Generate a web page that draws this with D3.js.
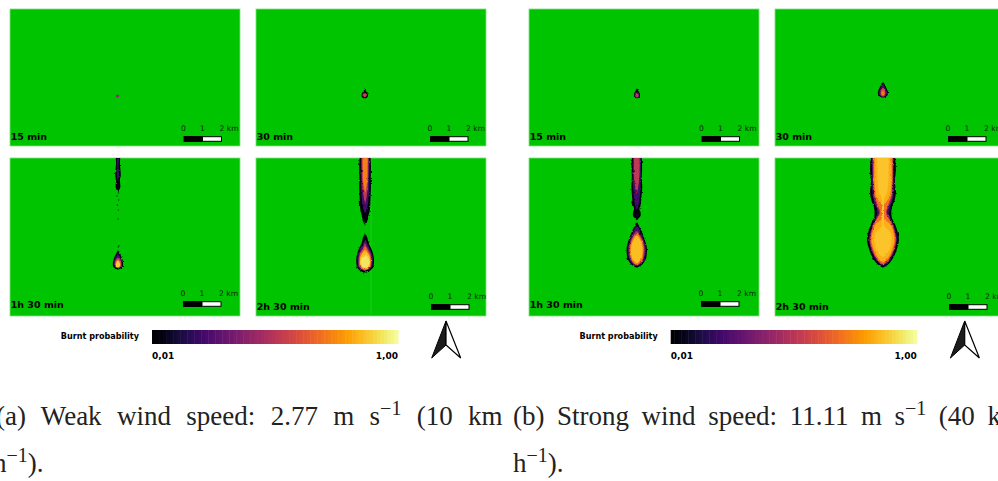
<!DOCTYPE html>
<html>
<head>
<meta charset="utf-8">
<script src="https://cdn.jsdelivr.net/npm/d3@7"></script>
<style>
  html, body { margin: 0; background: #fff; overflow: hidden; }
  svg { display: block; }
</style>
</head>
<body>
<div id="chart"></div>
<script>
const width = 998;
const height = 481;

// Panel labels and legend text
const panelTitles = ["15 min", "30 min", "1h 30 min", "2h 30 min"];
const scaleTicks = [0, 1, 2];
const legendDomain = [0.01, 1];
const legendTickLabels = ["0,01", "1,00"];

// Fire contours: [km from panel top, half width in km]
const weak15Dark = [[4.5, 0.02], [4.58, 0.09], [4.67, 0.02]];
const weak15Red = [[4.53, 0.02], [4.58, 0.06], [4.64, 0.02]];

const weak30Dark = [[4.18, 0.01], [4.32, 0.06], [4.45, 0.15], [4.58, 0.17], [4.70, 0.06]];
const weak30Red = [[4.42, 0.03], [4.53, 0.12], [4.64, 0.03]];

const weak90TailDark = [[0, 0.12], [0.3, 0.1], [0.6, 0.13], [0.9, 0.15], [1.2, 0.1], [1.5, 0.13], [1.7, 0.06], [1.8, 0.02]];
const weak90TailPurple = [[0, 0.05], [0.5, 0.04], [0.9, 0.06], [1.2, 0.02]];
const weak90Specks = [[1.84, 0.03], [2.0, -0.05], [2.21, 0.04], [2.47, -0.03], [2.74, 0.02], [3.21, 0], [4.62, 0.05], [4.68, 0.02]];
const weak90Dark = [[4.85, 0.01], [5.0, 0.08], [5.2, 0.18], [5.45, 0.26], [5.65, 0.27], [5.8, 0.16], [5.87, 0.03]];
const weak90Purple = [[5.05, 0.02], [5.25, 0.13], [5.45, 0.21], [5.65, 0.21], [5.78, 0.1]];
const weak90Red = [[5.25, 0.03], [5.42, 0.15], [5.62, 0.18], [5.76, 0.08]];
const weak90Orange = [[5.33, 0.03], [5.48, 0.13], [5.65, 0.15], [5.77, 0.05]];
const weak90Yellow = [[5.42, 0.03], [5.55, 0.1], [5.65, 0.11], [5.74, 0.03]];

const weak150TailDark = [[0, 0.29], [0.5, 0.31], [1, 0.3], [1.5, 0.31], [2, 0.29], [2.5, 0.27], [2.8, 0.24], [3.0, 0.18], [3.2, 0.15], [3.4, 0.08], [3.5, 0.02]];
const weak150TailPurple = [[0, 0.22], [1, 0.22], [1.8, 0.2], [2.3, 0.17], [2.7, 0.08], [2.9, 0.01]];
const weak150TailRed = [[0, 0.18], [1, 0.17], [1.6, 0.13], [2.1, 0.07], [2.4, 0.01]];
const weak150TailOrange = [[0, 0.13], [1, 0.12], [1.5, 0.07], [1.8, 0.01]];
const weak150Dark = [[4.02, 0.04], [4.2, 0.12], [4.45, 0.17], [4.7, 0.29], [5.0, 0.41], [5.4, 0.47], [5.7, 0.44], [5.9, 0.29], [6.02, 0.08]];
const weak150Purple = [[4.3, 0.03], [4.6, 0.14], [4.9, 0.3], [5.3, 0.4], [5.65, 0.38], [5.85, 0.24], [5.95, 0.06]];
const weak150Red = [[4.5, 0.03], [4.75, 0.13], [5.05, 0.29], [5.4, 0.35], [5.7, 0.33], [5.87, 0.13]];
const weak150Orange = [[4.65, 0.03], [4.9, 0.16], [5.2, 0.29], [5.6, 0.31], [5.8, 0.19], [5.9, 0.04]];
const weak150Amber = [[4.85, 0.03], [5.1, 0.21], [5.4, 0.28], [5.65, 0.25], [5.82, 0.08]];
const weak150Yellow = [[5.1, 0.05], [5.3, 0.2], [5.5, 0.24], [5.7, 0.17], [5.78, 0.04]];

const strong15Dark = [[4.2, 0.02], [4.3, 0.07], [4.45, 0.15], [4.6, 0.15], [4.7, 0.03]];
const strong15Purple = [[4.33, 0.02], [4.47, 0.11], [4.6, 0.11], [4.67, 0.02]];
const strong15Red = [[4.42, 0.02], [4.55, 0.08], [4.65, 0.02]];

const strong30Dark = [[3.87, 0.03], [4.0, 0.11], [4.2, 0.2], [4.4, 0.27], [4.55, 0.23], [4.65, 0.06]];
const strong30Purple = [[4.0, 0.03], [4.2, 0.14], [4.4, 0.21], [4.55, 0.17], [4.63, 0.03]];
const strong30Red = [[4.15, 0.03], [4.33, 0.12], [4.5, 0.13], [4.6, 0.02]];
const strong30Orange = [[4.28, 0.02], [4.42, 0.09], [4.55, 0.02]];

const strong90TailDark = [[0, 0.26], [0.5, 0.28], [1, 0.26], [1.5, 0.29], [2, 0.25], [2.4, 0.22], [2.7, 0.14], [2.85, 0.2], [3.0, 0.21], [3.2, 0.08], [3.28, 0.01]];
const strong90TailPurple = [[0, 0.21], [1, 0.21], [1.7, 0.18], [2.3, 0.13], [2.7, 0.02]];
const strong90TailRed = [[0, 0.15], [0.8, 0.15], [1.3, 0.11], [1.9, 0.01]];
const strong90Dark = [[3.4, 0.05], [3.6, 0.13], [3.9, 0.27], [4.3, 0.42], [4.8, 0.54], [5.2, 0.51], [5.5, 0.37], [5.7, 0.16], [5.76, 0.04]];
const strong90Purple = [[3.6, 0.05], [3.9, 0.2], [4.3, 0.36], [4.8, 0.48], [5.2, 0.44], [5.5, 0.3], [5.68, 0.09]];
const strong90Red = [[3.85, 0.05], [4.15, 0.23], [4.8, 0.42], [5.2, 0.38], [5.5, 0.24], [5.63, 0.08]];
const strong90Orange = [[4.0, 0.08], [4.3, 0.25], [4.8, 0.37], [5.2, 0.33], [5.5, 0.18], [5.6, 0.05]];
const strong90Amber = [[4.1, 0.06], [4.4, 0.22], [4.8, 0.31], [5.2, 0.27], [5.45, 0.12], [5.52, 0.03]];

const strong150Dark = [[0, 0.64], [0.6, 0.68], [1.2, 0.63], [1.8, 0.68], [2.2, 0.62], [2.6, 0.47], [2.9, 0.44], [3.1, 0.46], [3.5, 0.64], [4.0, 0.8], [4.3, 0.84], [4.7, 0.76], [5.2, 0.57], [5.5, 0.37], [5.7, 0.14], [5.76, 0.03]];
const strong150Purple = [[0, 0.58], [1, 0.57], [1.8, 0.56], [2.3, 0.48], [2.6, 0.36], [2.9, 0.3], [3.1, 0.36], [3.5, 0.55], [4, 0.71], [4.3, 0.74], [4.7, 0.66], [5.2, 0.47], [5.5, 0.26], [5.65, 0.05]];
const strong150Red = [[0, 0.54], [1, 0.53], [1.8, 0.52], [2.3, 0.41], [2.6, 0.29], [2.87, 0.21], [3.1, 0.31], [3.5, 0.51], [4, 0.66], [4.3, 0.7], [4.7, 0.62], [5.2, 0.42], [5.48, 0.22], [5.6, 0.04]];
const strong150Orange = [[0, 0.5], [1, 0.5], [1.8, 0.47], [2.3, 0.34], [2.6, 0.22], [2.85, 0.14], [3.1, 0.26], [3.5, 0.47], [4, 0.62], [4.3, 0.66], [4.7, 0.58], [5.2, 0.38], [5.45, 0.18], [5.58, 0.03]];
const strong150Amber = [[0, 0.44], [1, 0.45], [1.8, 0.4], [2.2, 0.25], [2.5, 0.05], [3.15, 0.05], [3.5, 0.4], [4, 0.56], [4.3, 0.6], [4.7, 0.52], [5.2, 0.3], [5.45, 0.1]];
const strong150Core = [[0, 0.3], [1, 0.3], [1.8, 0.22], [2.2, 0.05], [3.5, 0.05], [4, 0.42], [4.3, 0.46], [4.7, 0.4], [5.15, 0.12]];

// Layout
const kmPerPanel = 12.1;
const pxPerKm = 230 / kmPerPanel;
const colX = [10, 256, 529, 775];
const rows = [{ y: 9, h: 137 }, { y: 158, h: 158 }];
const groupOffset = [0, 518.7];

// Each panel: probability bands drawn from the outside in
const panels = [
  { col: 0, row: 0, title: 0, barX: 173.5, barUp: 10, titleUp: 6, plumes: [{ cx: 5.66, bands: [[0.3, weak15Dark], [0.5, weak15Red]] }] },
  { col: 1, row: 0, title: 1, barX: 174, barUp: 10, titleUp: 6, plumes: [{ cx: 5.72, bands: [[0.03, weak30Dark], [0.52, weak30Red]] }] },
  { col: 0, row: 1, title: 2, barX: 173, barUp: 15, titleUp: 8, specks: weak90Specks, plumes: [
    { cx: 5.68, bands: [[0.03, weak90TailDark], [0.18, weak90TailPurple]] },
    { cx: 5.68, bands: [[0.03, weak90Dark], [0.2, weak90Purple], [0.45, weak90Red], [0.68, weak90Orange], [0.88, weak90Yellow]] }] },
  { col: 1, row: 1, title: 3, barX: 175, barUp: 12, titleUp: 6, seam: 6.05, plumes: [
    { cx: 5.74, bands: [[0.03, weak150TailDark], [0.2, weak150TailPurple], [0.5, weak150TailRed], [0.72, weak150TailOrange]] },
    { cx: 5.74, bands: [[0.03, weak150Dark], [0.22, weak150Purple], [0.45, weak150Red], [0.66, weak150Orange], [0.84, weak150Amber], [0.93, weak150Yellow]] }] },
  { col: 2, row: 0, title: 0, barX: 172.5, barUp: 10, titleUp: 6, plumes: [{ cx: 5.68, bands: [[0.03, strong15Dark], [0.25, strong15Purple], [0.5, strong15Red]] }] },
  { col: 3, row: 0, title: 1, barX: 173, barUp: 10, titleUp: 6, plumes: [{ cx: 5.68, bands: [[0.03, strong30Dark], [0.2, strong30Purple], [0.55, strong30Red], [0.72, strong30Orange]] }] },
  { col: 2, row: 1, title: 2, barX: 172, barUp: 15, titleUp: 8, plumes: [
    { cx: 5.67, bands: [[0.03, strong90TailDark], [0.2, strong90TailPurple], [0.5, strong90TailRed]] },
    { cx: 5.67, bands: [[0.03, strong90Dark], [0.2, strong90Purple], [0.45, strong90Red], [0.7, strong90Orange], [0.85, strong90Amber]] }] },
  { col: 3, row: 1, title: 3, barX: 174, barUp: 12, titleUp: 6, plumes: [
    { cx: 5.68, bands: [[0.03, strong150Dark], [0.2, strong150Purple], [0.45, strong150Red], [0.68, strong150Orange], [0.82, strong150Amber], [0.86, strong150Core]] }] }
];

const svg = d3.select("#chart").append("svg")
  .attr("width", width)
  .attr("height", height);

const defs = svg.append("defs");

// Rough raster edge for the fire shapes
const rough = defs.append("filter").attr("id", "rough")
  .attr("x", "-20%").attr("y", "-20%").attr("width", "140%").attr("height", "140%");
rough.append("feTurbulence").attr("type", "fractalNoise").attr("baseFrequency", 0.4)
  .attr("numOctaves", 2).attr("seed", 4).attr("result", "n");
rough.append("feDisplacementMap").attr("in", "SourceGraphic").attr("in2", "n")
  .attr("scale", 2.6).attr("xChannelSelector", "R").attr("yChannelSelector", "G").attr("result", "d");
rough.append("feGaussianBlur").attr("in", "d").attr("stdDeviation", 0.6);

const color = d3.scaleSequential(d3.interpolateInferno).domain([0, 1]);
const labelFont = "'DejaVu Sans', sans-serif";

panels.forEach((p, i) => {
  const row = rows[p.row];
  const px = colX[p.col];
  const x = d3.scaleLinear().domain([0, kmPerPanel]).range([0, 230]);
  const y = d3.scaleLinear().domain([0, row.h / pxPerKm]).range([0, row.h]);

  defs.append("clipPath").attr("id", "clip" + i)
    .append("rect").attr("width", 230).attr("height", row.h);

  const g = svg.append("g").attr("transform", `translate(${px},${row.y})`);

  g.append("rect")
    .attr("width", 230).attr("height", row.h)
    .attr("fill", "#00c400")
    .attr("stroke", "#7fe07f").attr("stroke-width", 0.8);

  const map = g.append("g").attr("clip-path", `url(#clip${i})`);

  if (p.seam) {
    map.append("line")
      .attr("x1", x(p.seam)).attr("x2", x(p.seam))
      .attr("y1", 0).attr("y2", row.h)
      .attr("stroke", "#2fce2f").attr("stroke-width", 0.7);
  }

  const fire = map.append("g");
  p.plumes.forEach(plume => {
    const area = d3.area()
      .y(d => y(d[0]))
      .x0(d => x(plume.cx - d[1]))
      .x1(d => x(plume.cx + d[1]))
      .curve(d3.curveMonotoneY);
    fire.append("g").attr("filter", "url(#rough)")
      .selectAll("path")
      .data(plume.bands)
      .join("path")
      .attr("d", d => area(d[1]))
      .attr("fill", d => color(d[0]));
  });

  if (p.specks) {
    map.selectAll("circle.speck")
      .data(p.specks)
      .join("circle")
      .attr("class", "speck")
      .attr("cx", d => x(p.plumes[0].cx + d[1]))
      .attr("cy", d => y(d[0]))
      .attr("r", 0.7)
      .attr("fill", "#0d3a16");
  }

  g.append("text")
    .attr("x", 0.7).attr("y", row.h - p.titleUp)
    .attr("font-family", labelFont).attr("font-weight", "bold").attr("font-size", 9.5)
    .attr("fill", "#000")
    .text(panelTitles[p.title]);

  // Scale bar
  const bar = d3.scaleLinear().domain([0, 2]).range([p.barX, p.barX + 38]);
  const barY = row.h - p.barUp;
  g.append("rect").attr("x", bar(0)).attr("y", barY).attr("width", bar(1) - bar(0)).attr("height", 6)
    .attr("fill", "#000");
  g.append("rect").attr("x", bar(1)).attr("y", barY + 0.7).attr("width", bar(2) - bar(1)).attr("height", 4.6)
    .attr("fill", "#fff").attr("stroke", "#000").attr("stroke-width", 1);
  g.selectAll("text.tick")
    .data(scaleTicks)
    .join("text")
    .attr("class", "tick")
    .attr("x", d => bar(d))
    .attr("y", barY - 5)
    .attr("text-anchor", d => d === 2 ? "start" : "middle")
    .attr("dx", d => d === 2 ? -2 : 0)
    .attr("font-family", labelFont).attr("font-size", 7.6)
    .attr("fill", "#062a06")
    .text(d => d === 2 ? "2 km" : d);
});

// Legends and north arrows
groupOffset.forEach(dx => {
  const g = svg.append("g").attr("transform", `translate(${dx},0)`);
  const scale = d3.scaleLinear().domain(legendDomain).range([152, 398]);
  const steps = d3.range(0, 70).map(k => k / 70);
  const t = d3.scaleLinear().domain([0, 1]).range(legendDomain);

  g.selectAll("rect.step")
    .data(steps)
    .join("rect")
    .attr("class", "step")
    .attr("x", d => scale(t(d)))
    .attr("y", 330)
    .attr("width", (398 - 152) / 70 + 0.5)
    .attr("height", 14)
    .attr("fill", d => color(d));

  g.append("text")
    .attr("x", 139).attr("y", 339).attr("text-anchor", "end")
    .attr("font-family", labelFont).attr("font-weight", "bold").attr("font-size", 8.1)
    .text("Burnt probability");

  g.selectAll("text.end")
    .data(legendDomain)
    .join("text")
    .attr("class", "end")
    .attr("x", d => scale(d))
    .attr("y", 358.5)
    .attr("text-anchor", (d, i) => i === 0 ? "start" : "end")
    .attr("font-family", labelFont).attr("font-weight", "bold").attr("font-size", 9)
    .text((d, i) => legendTickLabels[i]);

  const line = d3.line();
  g.append("path")
    .attr("d", line([[446, 321], [431.7, 358], [446, 345]]) + "Z")
    .attr("fill", "#1c1c1c").attr("stroke", "#000").attr("stroke-width", 1);
  g.append("path")
    .attr("d", line([[446, 321], [460.7, 358], [446, 345]]) + "Z")
    .attr("fill", "#fff").attr("stroke", "#000").attr("stroke-width", 1.2);
});

// Captions
function caption(x, y, before, after, spacing) {
  const t = svg.append("text")
    .attr("x", x).attr("y", y)
    .attr("font-family", "'Liberation Serif', serif")
    .attr("font-size", 27)
    .attr("fill", "#222")
    .attr("word-spacing", spacing)
    .attr("xml:space", "preserve");
  t.append("tspan").text(before);
  t.append("tspan").attr("dy", -10).attr("font-size", 20).text("\u22121");
  t.append("tspan").attr("dy", 10).text(after);
}

caption(-4, 425, "(a) Weak wind speed: 2.77 m s", " (10 km", 8.6);
caption(-7, 472, "h", ").", 0);
caption(513, 425, "(b) Strong wind speed: 11.11 m s", " (40 km", 5.8);
caption(513, 472, "h", ").", 0);
</script>
</body>
</html>
